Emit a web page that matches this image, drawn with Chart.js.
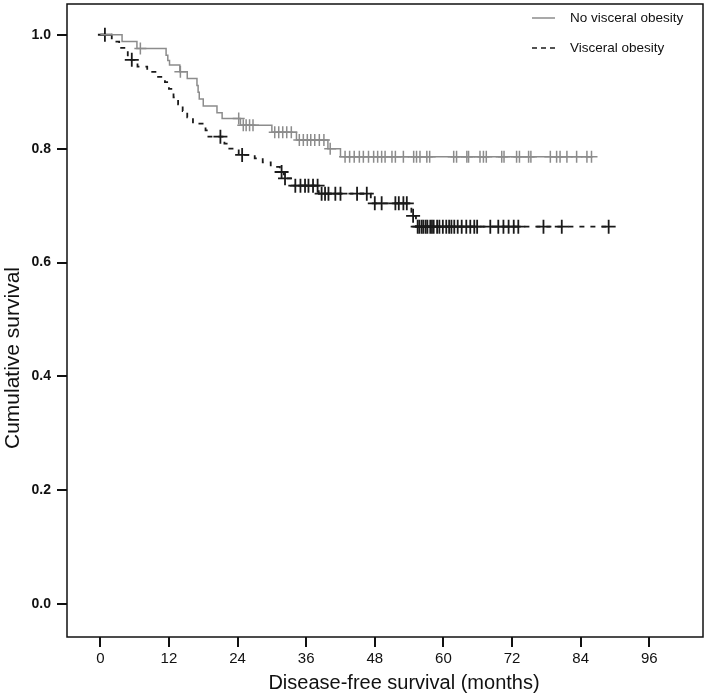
<!DOCTYPE html>
<html>
<head>
<meta charset="utf-8">
<script src="https://cdn.jsdelivr.net/npm/chart.js@4.4.1/dist/chart.umd.min.js"></script>
<style>
  html, body { margin: 0; padding: 0; background: #fff; }
  #wrap { width: 709px; height: 696px; }
</style>
</head>
<body>
<div id="wrap"><canvas id="km"></canvas></div>
<script>
var xTicks = [0, 12, 24, 36, 48, 60, 72, 84, 96]
var yTicks = [0, 0.2, 0.4, 0.6, 0.8, 1.0]
var xTitle = "Disease-free survival (months)"
var yTitle = "Cumulative survival"
var legendLabels = ["No visceral obesity", "Visceral obesity"]

// No visceral obesity: step times (months) and survival after each step
var noObTimes = [0, 3.8, 6.4, 11.5, 11.8, 12.1, 13.9, 15.2, 16.9, 17.1, 17.3, 18.0, 20.4, 21.3, 24.5, 30.0, 34.3, 39.8, 42.0]
var noObSurv = [1.0, 0.988, 0.976, 0.964, 0.955, 0.947, 0.935, 0.923, 0.911, 0.899, 0.887, 0.875, 0.863, 0.853, 0.841, 0.829, 0.815, 0.800, 0.786]
var noObCensor = [7.0, 14.0, 24.2, 25.0, 25.5, 26.1, 26.7, 30.5, 31.2, 31.9, 32.6, 33.4,
  34.8, 35.5, 36.2, 36.8, 37.5, 38.3, 39.1, 40.2, 42.8, 43.6, 44.4, 45.3, 46.0, 46.9,
  47.8, 48.5, 49.2, 49.8, 51.0, 51.6, 53.0, 54.8, 55.3, 55.9, 57.1, 57.6, 61.8, 62.3,
  64.1, 64.4, 66.4, 67.0, 67.5, 70.2, 70.6, 72.8, 73.3, 74.9, 75.3, 78.7, 79.8, 80.4,
  81.6, 83.3, 85.1, 85.9]
var noObEnd = 85.9

// Visceral obesity
var obTimes = [0, 2.0, 3.3, 4.8, 6.5, 8.2, 9.8, 11.3, 12.0, 12.8, 13.6, 14.4, 15.2, 16.2, 18.4, 18.9,
  21.7, 22.3, 24.2, 27.0, 28.4, 29.8, 31.4, 32.1, 33.3, 38.2, 47.3, 54.4, 55.2]
var obSurv = [1.0, 0.988, 0.977, 0.956, 0.944, 0.935, 0.926, 0.917, 0.905, 0.890, 0.878, 0.866, 0.855, 0.844, 0.832, 0.821,
  0.809, 0.800, 0.789, 0.783, 0.776, 0.768, 0.759, 0.748, 0.735, 0.721, 0.704, 0.682, 0.663]
var obCensor = [0.8, 5.5, 21.0, 24.8, 31.7, 32.3, 34.1, 35.0, 35.8, 36.4, 37.2, 38.0,
  38.7, 39.3, 39.9, 41.1, 42.0, 44.9, 46.6, 48.0, 49.2, 51.6, 52.2, 53.0, 53.6, 54.7,
  55.5, 55.8, 56.2, 56.5, 56.9, 57.2, 57.7, 58.0, 58.3, 58.9, 59.3, 59.9, 60.5, 61.0,
  61.4, 61.9, 62.5, 63.2, 64.0, 64.7, 65.4, 65.9, 68.2, 69.6, 70.5, 71.4, 72.3, 73.1,
  77.5, 80.7, 88.9]
var obEnd = 88.9

var grayColour = "#8c8c8c"
var blackColour = "#1a1a1a"
var mainFont = "'Liberation Sans', Arial, sans-serif"

function survAt(times, surv, t) {
  var s = surv[0]
  for (var i = 0; i < times.length; i++) {
    if (times[i] <= t) s = surv[i]
  }
  return s
}

function stepPoints(times, surv, end) {
  var pts = times.map(function(t, i) { return { x: t, y: surv[i] } })
  pts.push({ x: end, y: surv[surv.length - 1] })
  return pts
}

function censorPoints(times, surv, cens) {
  return cens.map(function(t) { return { x: t, y: survAt(times, surv, t) } })
}

function noScalePadding(scale) {
  scale.paddingTop = 0
  scale.paddingBottom = 0
  scale.paddingLeft = 0
  scale.paddingRight = 0
}

// frame, axis titles (SPSS puts them a bit off-centre) and the legend
var framePlugin = {
  id: "frame",
  afterDraw: function(chart) {
    var a = chart.chartArea
    var ctx = chart.ctx
    ctx.save()
    ctx.strokeStyle = "#111"
    ctx.lineWidth = 1.5
    ctx.strokeRect(a.left, a.top, a.right - a.left, a.bottom - a.top)

    ctx.fillStyle = "#111"
    ctx.textAlign = "center"
    ctx.textBaseline = "middle"
    ctx.font = "20px " + mainFont
    ctx.fillText(xTitle, 404, 683)
    ctx.save()
    ctx.translate(13, 358)
    ctx.rotate(-Math.PI / 2)
    ctx.font = "21px " + mainFont
    ctx.fillText(yTitle, 0, 0)
    ctx.restore()

    // legend
    ctx.lineWidth = 1.5
    ctx.strokeStyle = grayColour
    ctx.beginPath()
    ctx.moveTo(532, 18)
    ctx.lineTo(555, 18)
    ctx.stroke()
    ctx.strokeStyle = blackColour
    ctx.setLineDash([5, 4])
    ctx.beginPath()
    ctx.moveTo(532, 48)
    ctx.lineTo(555, 48)
    ctx.stroke()
    ctx.setLineDash([])
    ctx.textAlign = "left"
    ctx.font = "13.5px " + mainFont
    ctx.fillText(legendLabels[0], 570, 18)
    ctx.fillText(legendLabels[1], 570, 48)
    ctx.restore()
  }
}

new Chart(document.getElementById("km"), {
  type: "line",
  data: {
    datasets: [{
      label: legendLabels[0],
      data: stepPoints(noObTimes, noObSurv, noObEnd),
      borderColor: grayColour,
      borderWidth: 1.5,
      stepped: true,
      pointRadius: 0,
      fill: false
    }, {
      label: legendLabels[1],
      data: stepPoints(obTimes, obSurv, obEnd),
      borderColor: blackColour,
      borderWidth: 1.8,
      borderDash: [5, 6],
      stepped: true,
      pointRadius: 0,
      fill: false
    }, {
      label: "No visceral obesity censored",
      data: censorPoints(noObTimes, noObSurv, noObCensor),
      showLine: false,
      pointStyle: "cross",
      pointRadius: 6,
      pointBorderWidth: 1.5,
      pointBorderColor: grayColour,
      pointHoverRadius: 6
    }, {
      label: "Visceral obesity censored",
      data: censorPoints(obTimes, obSurv, obCensor),
      showLine: false,
      pointStyle: "cross",
      pointRadius: 7,
      pointBorderWidth: 1.8,
      pointBorderColor: blackColour,
      pointHoverRadius: 7
    }]
  },
  options: {
    responsive: true,
    maintainAspectRatio: false,
    animation: false,
    layout: { autoPadding: false, padding: { left: 0, right: 6, top: 4, bottom: 0 } },
    plugins: {
      legend: { display: false },
      tooltip: { enabled: false }
    },
    scales: {
      x: {
        type: "linear",
        min: -5.83,
        max: 105.4,
        afterBuildTicks: function(scale) {
          scale.ticks = xTicks.map(function(v) { return { value: v } })
        },
        afterFit: function(scale) {
          scale.height = 59
          noScalePadding(scale)
        },
        grid: { drawOnChartArea: false, drawTicks: true, tickLength: 10, color: "#111", lineWidth: 2 },
        border: { display: false },
        ticks: {
          color: "#111",
          padding: 3,
          maxRotation: 0,
          font: { family: mainFont, size: 15 },
          callback: function(value) { return value }
        }
      },
      y: {
        type: "linear",
        min: -0.0574,
        max: 1.054,
        afterBuildTicks: function(scale) {
          scale.ticks = yTicks.map(function(v) { return { value: v } })
        },
        afterFit: function(scale) {
          scale.width = 67
          noScalePadding(scale)
        },
        grid: { drawOnChartArea: false, drawTicks: true, tickLength: 10, color: "#111", lineWidth: 2 },
        border: { display: false },
        ticks: {
          color: "#111",
          padding: 6,
          font: { family: mainFont, size: 14, weight: "bold" },
          callback: function(value) { return value.toFixed(1) }
        }
      }
    }
  },
  plugins: [framePlugin]
})
</script>
</body>
</html>
